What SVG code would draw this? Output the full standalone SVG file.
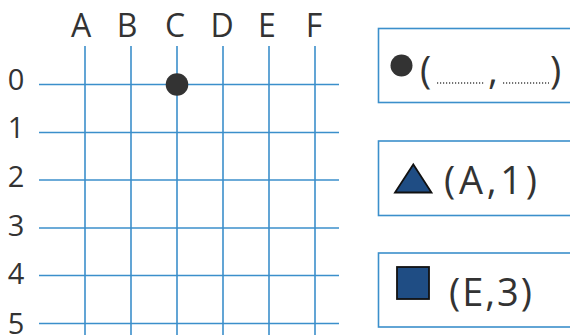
<svg xmlns="http://www.w3.org/2000/svg" width="570" height="335" viewBox="0 0 570 335">
<style>
.grid{stroke:#3b8fcb;stroke-width:1.6;fill:none}
.box{stroke:#3b8fcb;stroke-width:1.6;fill:#fff}
.lbl{font-family:"Open Sans","Liberation Sans",sans-serif;fill:#333}
.col{font-size:32px;text-anchor:middle}
.row{font-size:29px;text-anchor:middle}
.big{font-size:38px}
.shape{fill:#1f4d84;stroke:#111;stroke-width:1.8}
.dots{stroke:#444;stroke-width:1.3;stroke-dasharray:1.2 1.8}
</style>
<rect width="570" height="335" fill="#fff"/>
<g id="grid">
<g class="grid">
<line x1="85" y1="46" x2="85" y2="335"/>
<line x1="131" y1="46" x2="131" y2="335"/>
<line x1="177" y1="46" x2="177" y2="335"/>
<line x1="223" y1="46" x2="223" y2="335"/>
<line x1="269" y1="46" x2="269" y2="335"/>
<line x1="315" y1="46" x2="315" y2="335"/>
<line x1="39" y1="84.5" x2="339" y2="84.5"/>
<line x1="39" y1="132.5" x2="339" y2="132.5"/>
<line x1="39" y1="180" x2="339" y2="180"/>
<line x1="39" y1="228" x2="339" y2="228"/>
<line x1="39" y1="275.5" x2="339" y2="275.5"/>
<line x1="39" y1="323.5" x2="339" y2="323.5"/>
</g>
<g class="lbl col">
<text x="81" y="37">A</text>
<text x="127" y="37">B</text>
<text x="175" y="37">C</text>
<text x="222" y="37">D</text>
<text x="267" y="37">E</text>
<text x="314" y="37">F</text>
</g>
<g class="lbl row">
<text x="16" y="90">0</text>
<text x="16" y="138">1</text>
<text x="16" y="187">2</text>
<text x="16" y="236">3</text>
<text x="16" y="284">4</text>
<text x="16" y="334">5</text>
</g>
<circle id="point" cx="177" cy="84.5" r="11.3" fill="#333"/>
</g>
<g id="box-circle">
<rect class="box" x="378.5" y="28.5" width="200" height="74"/>
<circle cx="401.5" cy="65.5" r="11" fill="#333"/>
<text class="lbl big" x="420" y="84">(</text>
<line class="dots" x1="437" y1="83" x2="484" y2="83"/>
<text class="lbl big" x="488" y="84">,</text>
<line class="dots" x1="503" y1="83" x2="549" y2="83"/>
<text class="lbl big" x="550" y="84">)</text>
</g>
<g id="box-triangle">
<rect class="box" x="378.5" y="141" width="200" height="74.5"/>
<polygon class="shape" points="395,192.5 431.5,192.5 413.3,164.5"/>
<text class="lbl big" x="444" y="194" textLength="93" lengthAdjust="spacing">(A,1)</text>
</g>
<g id="box-square">
<rect class="box" x="378.5" y="253" width="200" height="74"/>
<rect class="shape" x="397" y="267" width="32" height="32"/>
<text class="lbl big" x="449" y="306" textLength="83" lengthAdjust="spacing">(E,3)</text>
</g>
</svg>
